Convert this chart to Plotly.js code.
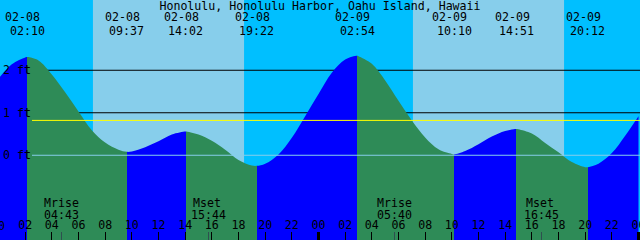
<!DOCTYPE html>
<html>
<head>
<meta charset="utf-8">
<script src="https://cdn.plot.ly/plotly-3.0.1.min.js"></script>
<style>html,body{margin:0;padding:0;background:#00BFFF;}#chart{width:640px;height:240px;}</style>
</head>
<body>
<div id="chart"></div>
<script>
// ---- data ----
const stationName = 'Honolulu, Honolulu Harbor, Oahu Island, Hawaii';
// hourly tide height (ft), hour 0 = 02-08 00:00
const hourlyHours = [0,1,2,3,4,5,6,7,8,9,10,11,12,13,14,15,16,17,18,19,20,21,22,23,24,
  25,26,27,28,29,30,31,32,33,34,35,36,37,38,39,40,41,42,43,44,45,46,47,48];
const hourlyHeights = [1.80,2.14,2.30,2.23,1.90,1.48,1.03,0.59,0.30,0.13,0.09,0.19,0.33,0.49,0.56,
  0.49,0.34,0.13,-0.11,-0.24,-0.20,0.02,0.41,0.92,1.44,1.94,2.25,2.33,2.15,1.76,1.28,0.82,0.42,
  0.14,0.03,0.10,0.26,0.44,0.57,0.61,0.51,0.29,0.07,-0.16,-0.28,-0.20,0.05,0.46,0.92];
// high / low tide events
const eventDates   = ['02-08','02-08','02-08','02-08','02-09','02-09','02-09','02-09'];
const eventTimes   = ['02:10','09:37','14:02','19:22','02:54','10:10','14:51','20:12'];
const eventHeights = [2.31, 0.08, 0.56, -0.25, 2.34, 0.02, 0.62, -0.28];
// moon events
const moonNames = ['Mrise','Mset','Mrise','Mset'];
const moonDates = ['02-08','02-08','02-09','02-09'];
const moonTimes = ['04:43','15:44','05:40','16:45'];
// sun (day shading)
const sunDates   = ['02-08','02-09'];
const sunrise    = ['07:05','07:05'];
const sunset     = ['18:25','18:25'];
// levels
const levelTicks  = [0, 1, 2];
const levelLabels = ['0 ft','1 ft','2 ft'];
const gridLevels  = [1, 2];
const meanLevel   = 0.82;
// time axis
const tickHours  = [0,2,4,6,8,10,12,14,16,18,20,22,24,26,28,30,32,34,36,38,40,42,44,46,48];
const tickLabels = ['00','02','04','06','08','10','12','14','16','18','20','22',
                    '00','02','04','06','08','10','12','14','16','18','20','22','00'];
const dayTicks   = [24, 48];

// ---- helpers ----
function toHours(date, time) {
  const day = parseInt(date.slice(3), 10) - 8;
  const [h, m] = time.split(':').map(Number);
  return day * 24 + h + m / 60;
}
const FONT = 'DejaVu Sans Mono';
const FS = 11.6;
const xRange = [0.1125, 48.1125];
const yRange = [-1.9941, 3.6529];
const NIGHT = '#00BFFF', DAY = '#87CEEB', RISING = '#0000FF', FALLING = '#2E8B57';
const LINE_START = 0.05;

const eventHours = eventDates.map((d, i) => toHours(d, eventTimes[i]));
const moonHours  = moonDates.map((d, i) => toHours(d, moonTimes[i]));

// merge hourly samples and events
let pts = hourlyHours.map((h, i) => [h, hourlyHeights[i]]);
eventHours.forEach((h, i) => pts.push([h, eventHeights[i]]));
pts.sort((a, b) => a[0] - b[0]);
const curveX = pts.map(p => p[0]);
const curveY = pts.map(p => p[1]);

// fill colour bands: rising = blue, falling = green
const span = xRange[1] - xRange[0];
const cs = [];
let prevColor = eventHeights[0] > curveY[0] ? RISING : FALLING;
cs.push([0, prevColor]);
for (let i = 0; i < eventHours.length; i++) {
  const p = Math.min(1, Math.max(0, (eventHours[i] - xRange[0]) / span));
  const next = (i + 1 < eventHours.length)
    ? (eventHeights[i + 1] > eventHeights[i] ? RISING : FALLING)
    : (curveY[curveY.length - 1] > eventHeights[i] ? RISING : FALLING);
  cs.push([p, prevColor]);
  cs.push([p, next]);
  prevColor = next;
}
cs.push([1, prevColor]);

const traces = [
  { x: curveX, y: curveX.map(() => yRange[0] - 1), mode: 'lines', line: {width: 0},
    hoverinfo: 'skip', showlegend: false },
  { x: curveX, y: curveY, mode: 'lines', line: {width: 0, shape: 'spline', smoothing: 1},
    fill: 'tonexty', fillcolor: FALLING,
    fillgradient: {type: 'horizontal', start: xRange[0], stop: xRange[1], colorscale: cs},
    hoverinfo: 'skip', showlegend: false },
  { x: [], y: [], xaxis: 'x2', mode: 'lines', showlegend: false },
  { x: [], y: [], xaxis: 'x3', mode: 'lines', showlegend: false }
];

const shapes = [];
sunDates.forEach((d, i) => {
  shapes.push({ type: 'rect', layer: 'below', xref: 'x', yref: 'paper',
    x0: toHours(d, sunrise[i]), x1: toHours(d, sunset[i]), y0: 0, y1: 1,
    fillcolor: DAY, line: {width: 0} });
});
gridLevels.forEach(v => {
  shapes.push({ type: 'line', layer: 'between', xref: 'paper', yref: 'y',
    x0: LINE_START, x1: 1, y0: v, y1: v, line: {color: '#000', width: 1} });
});
shapes.push({ type: 'line', layer: 'above', xref: 'paper', yref: 'y',
  x0: LINE_START, x1: 1, y0: 0, y1: 0, line: {color: DAY, width: 1} });
shapes.push({ type: 'line', layer: 'above', xref: 'paper', yref: 'y',
  x0: LINE_START, x1: 1, y0: meanLevel, y1: meanLevel, line: {color: '#FFFF00', width: 1} });

const annotations = [];
const txt = (text, x, xref, y, xshift) => ({
  text, x, xref, y, yref: 'paper', xanchor: 'center', yanchor: 'middle',
  xshift: xshift || 0, showarrow: false, font: {family: FONT, size: FS, color: '#000'}
});
eventHours.forEach((h, i) => {
  annotations.push(txt(eventDates[i], h, 'x', 1 - 17.5 / 240, -4.5));
  annotations.push(txt(eventTimes[i], h, 'x', 1 - 30.5 / 240, 0));
});
moonHours.forEach((h, i) => {
  annotations.push(txt(moonNames[i], h, 'x', 1 - 202.5 / 240, moonNames[i] === 'Mset' ? -1.5 : 0));
  annotations.push(txt(moonTimes[i], h, 'x', 1 - 214.5 / 240, 0));
});
// first hour label lies just left of the visible range: place it in paper units
annotations.push(txt(tickLabels[0], (tickHours[0] - xRange[0]) / span, 'paper', 1 - 226 / 240, -1));

const axisFont = {family: FONT, size: FS, color: '#000'};
const layout = {
  width: 640, height: 240,
  margin: {l: 0, r: 0, t: 0, b: 0, pad: 0},
  paper_bgcolor: NIGHT, plot_bgcolor: NIGHT,
  showlegend: false,
  title: {text: stationName, x: 0.5, xanchor: 'center', xref: 'paper',
          y: 1 - 6 / 240, yref: 'container', yanchor: 'middle',
          font: {family: FONT, size: FS, color: '#000'}},
  xaxis: {range: xRange, tickvals: tickHours, ticktext: tickLabels,
          ticks: 'inside', ticklen: 8, tickwidth: 1, tickcolor: '#000',
          ticklabelposition: 'inside', ticklabeloverflow: 'allow',
          showgrid: false, zeroline: false, showline: false, tickfont: axisFont, fixedrange: true},
  xaxis2: {overlaying: 'x', anchor: 'y', side: 'bottom', range: xRange, tickvals: dayTicks,
          ticks: 'inside', ticklen: 8, tickwidth: 3, tickcolor: '#000', showticklabels: false,
          showgrid: false, zeroline: false, showline: false, fixedrange: true},
  xaxis3: {overlaying: 'x', anchor: 'y', side: 'bottom', range: xRange, tickvals: moonHours,
          ticks: 'inside', ticklen: 8, tickwidth: 1, tickcolor: '#2F4F4F', showticklabels: false,
          showgrid: false, zeroline: false, showline: false, fixedrange: true},
  yaxis: {range: yRange, tickvals: levelTicks, ticktext: levelLabels, ticks: '',
          ticklabelposition: 'inside', ticklabeloverflow: 'allow',
          showgrid: false, zeroline: false, showline: false, tickfont: axisFont, fixedrange: true},
  shapes, annotations
};

Plotly.newPlot('chart', traces, layout, {displayModeBar: false, staticPlot: true});
</script>
</body>
</html>
